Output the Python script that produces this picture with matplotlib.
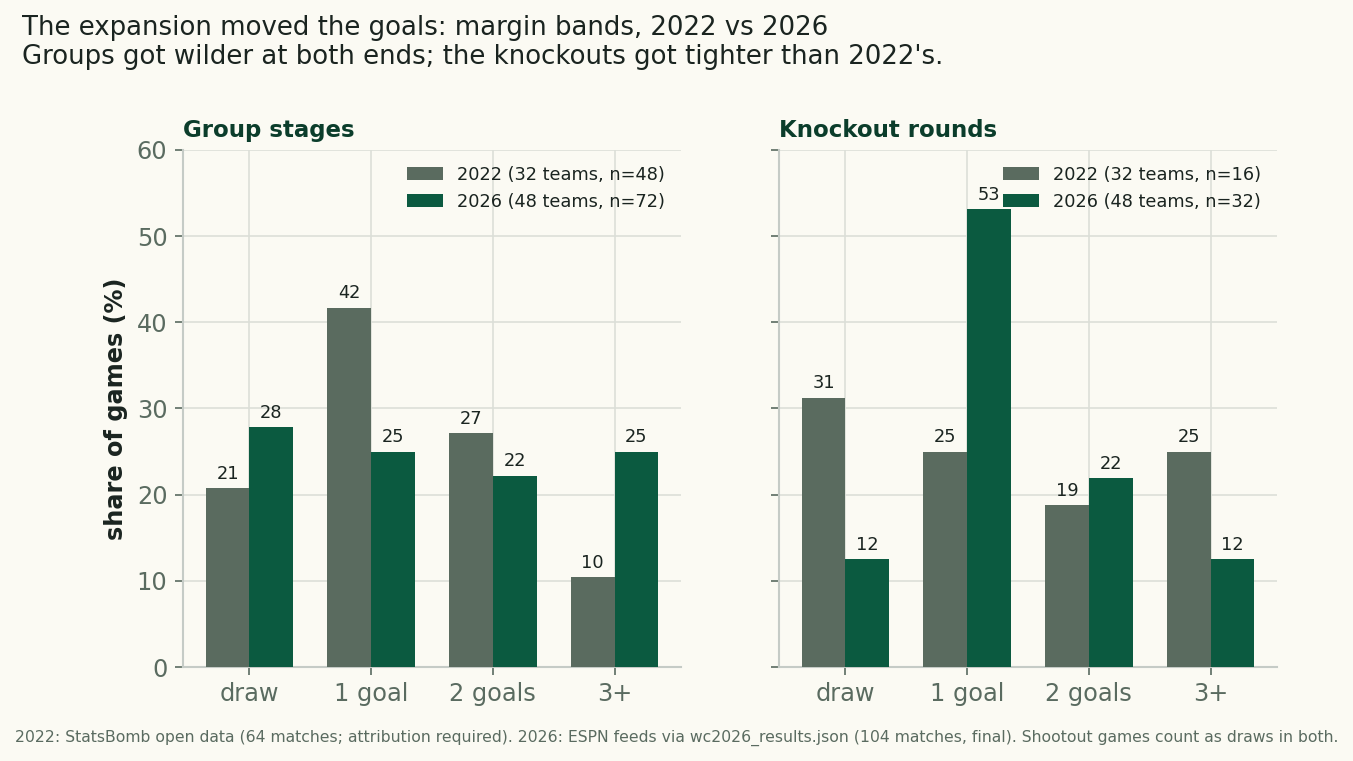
import matplotlib.pyplot as plt
import numpy as np

# margin bands
bands = ["draw", "1 goal", "2 goals", "3+"]

group_2022 = [20.8, 41.7, 27.1, 10.4]
group_2026 = [27.8, 25.0, 22.2, 25.0]
ko_2022 = [31.25, 25.0, 18.75, 25.0]
ko_2026 = [12.5, 53.125, 21.875, 12.5]

group_labels = ["2022 (32 teams, n=48)", "2026 (48 teams, n=72)"]
ko_labels = ["2022 (32 teams, n=16)", "2026 (48 teams, n=32)"]

BG = "#fbfaf3"
C22 = "#5a6b5f"
C26 = "#0b5a40"
GRID = "#dcdfd8"
SPINE = "#c5cbc6"
TICK = "#5a6b60"
DARK = "#1a2420"

fig = plt.figure(figsize=(1353/150, 761/150), dpi=150, facecolor=BG)
ax1 = fig.add_axes([0.1353, 0.1235, 0.368, 0.6795])
ax2 = fig.add_axes([0.5758, 0.1235, 0.368, 0.6795], sharey=ax1)

def panel(ax, a, b, labels, title):
    ax.set_facecolor(BG)
    x = np.arange(len(bands))
    w = 0.36
    r1 = ax.bar(x - w/2, a, w, color=C22, label=labels[0], zorder=3)
    r2 = ax.bar(x + w/2, b, w, color=C26, label=labels[1], zorder=3)
    for rects, vals in ((r1, a), (r2, b)):
        for r, v in zip(rects, vals):
            ax.annotate(f"{v:.0f}", (r.get_x() + r.get_width()/2, v),
                        xytext=(0, 2.5), textcoords="offset points",
                        ha="center", va="bottom", fontsize=8.5, color=DARK)
    ax.set_xticks(x)
    ax.set_xticklabels(bands)
    ax.set_ylim(0, 60)
    ax.set_yticks(range(0, 61, 10))
    ax.grid(True, color=GRID, linewidth=0.8, zorder=0)
    for s in ("top", "right"):
        ax.spines[s].set_visible(False)
    for s in ("left", "bottom"):
        ax.spines[s].set_color(SPINE)
        ax.spines[s].set_linewidth(1.0)
    ax.tick_params(colors=TICK, labelsize=11.5, length=4)
    ax.tick_params(axis="x", pad=3)
    ax.set_title(title, loc="left", fontsize=11, fontweight="bold",
                 color="#0b3d2b", pad=6)
    ax.legend(loc="upper right", frameon=False, fontsize=8.5,
              labelcolor=DARK, handlelength=2.0, borderaxespad=0.5)

panel(ax1, group_2022, group_2026, group_labels, "Group stages")
panel(ax2, ko_2022, ko_2026, ko_labels, "Knockout rounds")
ax2.tick_params(axis="y", labelleft=False)
ax1.set_ylabel("share of games (%)", fontsize=11.5, fontweight="bold", color=DARK)

fig.text(0.016, 0.98, "The expansion moved the goals: margin bands, 2022 vs 2026\n"
         "Groups got wilder at both ends; the knockouts got tighter than 2022's.",
         ha="left", va="top", fontsize=12.5, color=DARK, linespacing=1.15)
fig.text(0.5, 0.02, "2022: StatsBomb open data (64 matches; attribution required). "
         "2026: ESPN feeds via wc2026_results.json (104 matches, final). "
         "Shootout games count as draws in both.",
         ha="center", va="bottom", fontsize=7.5, color=TICK)

fig.savefig("out.png", dpi=150, facecolor=BG)
